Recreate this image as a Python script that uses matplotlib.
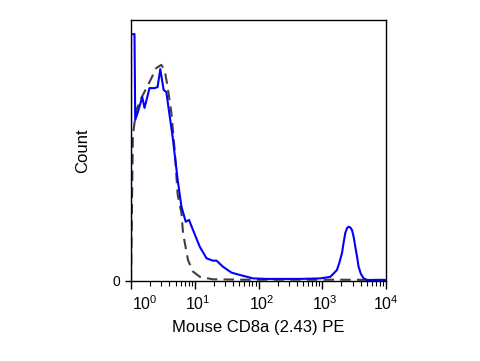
import matplotlib

matplotlib.use("Agg")
import matplotlib.pyplot as plt
from matplotlib.transforms import ScaledTranslation

plt.rcParams["font.family"] = ["Liberation Sans", "DejaVu Sans"]
plt.rcParams["mathtext.fontset"] = "custom"
plt.rcParams["mathtext.rm"] = "Liberation Sans"
plt.rcParams["mathtext.it"] = "Liberation Sans"

# stained sample (solid blue)
stained_x = [1.0, 1.004, 1.135, 1.165, 1.27, 1.50, 1.63, 1.95, 2.34, 2.61, 2.88,
             3.25, 3.58, 4.50, 5.40, 6.18, 7.22, 8.13, 9.40, 12.0, 15.3, 19.2,
             22.0, 27.6, 37.8, 51.2, 82, 135, 450, 930, 1340, 1700, 1850, 2040,
             2160, 2300, 2450, 2590, 2760, 2930, 3110, 3300, 3520, 3710, 4040,
             4460, 5040, 9800]
stained_y = [0, 94.6, 94.6, 61.7, 64.4, 70.5, 66.3, 73.9, 73.9, 74.3, 81.2,
             73.2, 72.4, 55.2, 38.7, 28.5, 22.7, 23.4, 19.5, 13.1, 8.7, 7.8,
             7.8, 5.5, 3.2, 2.3, 1.0, 0.8, 0.8, 1.0, 1.6, 4.2, 6.9, 10.7,
             14.6, 18.4, 20.3, 20.8, 20.5, 19.5, 16.9, 13.1, 9.2, 5.5, 2.7,
             1.0, 0.4, 0.4]

# isotype control (dashed grey)
control_x = [1.0, 1.07, 1.21, 1.45, 1.95, 2.49, 2.99, 3.37, 3.76, 4.30, 4.84,
             5.40, 6.18, 6.55, 7.84, 9.40, 12.0, 19.2, 60, 300, 1500, 9800]
control_y = [0, 55.9, 65.5, 70.1, 76.2, 81.6, 82.8, 80.8, 74.3, 64.4, 50.2,
             33.0, 26.1, 18.4, 8.0, 3.6, 1.6, 0.65, 0.5, 0.5, 0.5, 0.4]

decades = [0, 1, 2, 3, 4]
label_shift = [14, 3, 3, 3, 0]  # px nudges of the decade labels

fig = plt.figure(figsize=(4.81, 3.61), dpi=100)
ax = fig.add_axes([131 / 481, 80 / 361, 255 / 481, 261 / 361])

ax.plot(control_x, control_y, color="#404040", lw=1.5, ls=(0, (5, 3)))
ax.plot(stained_x, stained_y, color="#0000ff", lw=1.5)

ax.set_xscale("log")
ax.set_xlim(1, 1e4)
ax.set_ylim(0, 100)
ax.set_xticks([10.0 ** d for d in decades])
ax.set_xticklabels([f"$10^{{{d}}}$" for d in decades], fontsize=11.5)
ax.set_yticks([0])
ax.set_yticklabels(["0"], fontsize=10)
ax.tick_params(axis="x", which="major", length=6, width=1, direction="out")
ax.tick_params(axis="x", which="minor", length=3.5, width=0.8, direction="out")
ax.tick_params(axis="y", length=4, width=1, direction="out")
for lab, dx in zip(ax.get_xticklabels(), label_shift):
    lab.set_transform(lab.get_transform() + ScaledTranslation(dx / 100, 0, fig.dpi_scale_trans))

for s in ax.spines.values():
    s.set_linewidth(1.0)

ax.set_xlabel("Mouse CD8a (2.43) PE", fontsize=12)
ax.set_ylabel("Count", fontsize=12)
ax.xaxis.set_label_coords(0.5, -0.15)
ax.yaxis.set_label_coords(-0.16, 0.5)

fig.savefig("out.png", dpi=100)
